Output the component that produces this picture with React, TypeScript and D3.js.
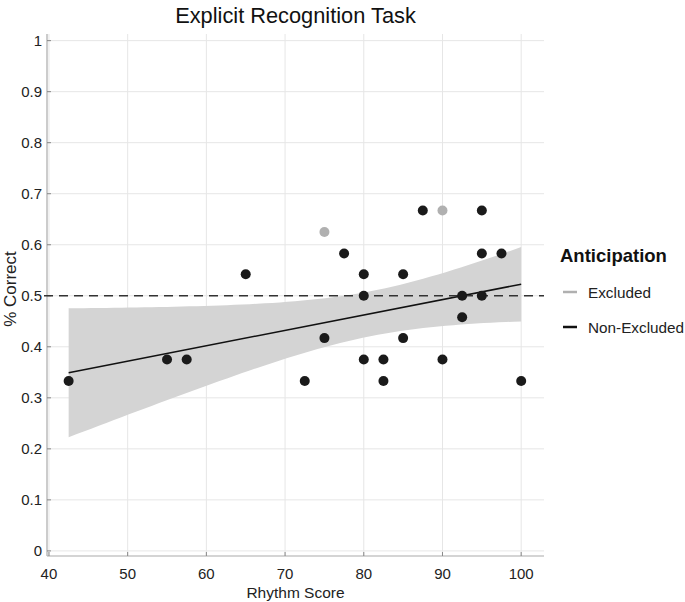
import React from "react";
import * as d3 from "d3";

const blackX = [42.5, 55, 57.5, 65, 72.5, 75, 77.5, 80, 80, 80, 82.5, 82.5, 85, 85, 87.5, 90, 92.5, 92.5, 95, 95, 95, 97.5, 100];
const blackY = [0.333, 0.375, 0.375, 0.542, 0.333, 0.417, 0.583, 0.542, 0.5, 0.375, 0.375, 0.333, 0.542, 0.417, 0.667, 0.375, 0.5, 0.458, 0.667, 0.583, 0.5, 0.583, 0.333];
const grayX = [75, 90];
const grayY = [0.625, 0.667];
const xTicks = [40, 50, 60, 70, 80, 90, 100];
const yTicks = [0, 0.1, 0.2, 0.3, 0.4, 0.5, 0.6, 0.7, 0.8, 0.9, 1];
const legendLabels = ["Excluded", "Non-Excluded"];

const W = 685, H = 602;
const left = 47, right = 544, top = 34, bottom = 556;
const font = "'Liberation Sans', Arial, Helvetica, sans-serif";

export default function App() {
  const x = d3.scaleLinear().domain([39.75, 102.9]).range([left, right]);
  const y = d3.scaleLinear().domain([-0.01, 1.013]).range([bottom, top]);

  // Linear regression with 95% CI of the fit
  const n = blackX.length;
  const mx = d3.mean(blackX)!;
  const my = d3.mean(blackY)!;
  let sxx = 0, sxy = 0;
  blackX.forEach((v, i) => { sxx += (v - mx) ** 2; sxy += (v - mx) * (blackY[i] - my); });
  const b = sxy / sxx;
  const a = my - b * mx;
  let sse = 0;
  blackX.forEach((v, i) => { sse += (blackY[i] - (a + b * v)) ** 2; });
  const s = Math.sqrt(sse / (n - 2));
  const t = 2.08;
  const x0 = d3.min(blackX)!, x1 = d3.max(blackX)!;
  const xs = d3.range(0, 61).map(i => x0 + (x1 - x0) * i / 60);
  const band = xs.map(v => {
    const fit = a + b * v;
    const hw = t * s * Math.sqrt(1 / n + (v - mx) ** 2 / sxx);
    return { v, lo: fit - hw, hi: fit + hw };
  });
  const area = d3.area<{ v: number; lo: number; hi: number }>()
    .x(d => x(d.v)).y0(d => y(d.lo)).y1(d => y(d.hi));

  return (
    <svg width={W} height={H} style={{ position: "absolute", left: 0, top: 0, background: "#fff" }} fontFamily={font}>
      <text x={(left + right) / 2} y={23} textAnchor="middle" fontSize={21.8} fill="#111">Explicit Recognition Task</text>
      {/* grid */}
      {xTicks.map(tk => (
        <line key={"gx" + tk} x1={x(tk)} x2={x(tk)} y1={top} y2={bottom} stroke="#e6e6e6" strokeWidth={1} />
      ))}
      {yTicks.map(tk => (
        <line key={"gy" + tk} x1={left} x2={right} y1={y(tk)} y2={y(tk)} stroke="#e6e6e6" strokeWidth={1} />
      ))}
      {/* axes */}
      <line x1={left} x2={left} y1={top} y2={bottom} stroke="#aaa" strokeWidth={1.2} />
      <line x1={left} x2={right} y1={bottom} y2={bottom} stroke="#aaa" strokeWidth={1.2} />
      {xTicks.map(tk => (
        <g key={"tx" + tk}>
          <line x1={x(tk)} x2={x(tk)} y1={bottom} y2={bottom - 4} stroke="#888" />
          <text x={x(tk)} y={579} textAnchor="middle" fontSize={15} fill="#222">{tk}</text>
        </g>
      ))}
      {yTicks.map(tk => (
        <g key={"ty" + tk}>
          <line x1={left} x2={left + 4} y1={y(tk)} y2={y(tk)} stroke="#888" />
          <text x={42} y={y(tk) + 5.5} textAnchor="end" fontSize={15} fill="#222">{String(tk)}</text>
        </g>
      ))}
      <text x={(left + right) / 2} y={597.5} textAnchor="middle" fontSize={15.5} fill="#222">Rhythm Score</text>
      <text transform={`translate(16,${(248 + 330) / 2}) rotate(-90)`} textAnchor="middle" fontSize={17} fill="#222">% Correct</text>
      {/* CI band and fit */}
      <path d={area(band)!} fill="#d4d4d4" />
      <line x1={x(x0)} x2={x(x1)} y1={y(a + b * x0)} y2={y(a + b * x1)} stroke="#111" strokeWidth={1.5} />
      <line x1={left - 3} x2={right} y1={y(0.5)} y2={y(0.5)} stroke="#333" strokeWidth={1.5} strokeDasharray="9,6" />
      {grayX.map((v, i) => (
        <circle key={"g" + i} cx={x(v)} cy={y(grayY[i])} r={5} fill="#b0b0b0" />
      ))}
      {blackX.map((v, i) => (
        <circle key={"b" + i} cx={x(v)} cy={y(blackY[i])} r={5} fill="#1a1a1a" />
      ))}
      {/* legend */}
      <text x={560} y={262} fontSize={18.5} fontWeight="bold" fill="#111">Anticipation</text>
      <line x1={563} x2={577} y1={292} y2={292} stroke="#b0b0b0" strokeWidth={2.5} />
      <text x={588} y={297.5} fontSize={15.3} fill="#222">{legendLabels[0]}</text>
      <line x1={563} x2={577} y1={327} y2={327} stroke="#111" strokeWidth={2.5} />
      <text x={588} y={332.5} fontSize={15.3} fill="#222">{legendLabels[1]}</text>
    </svg>
  );
}
